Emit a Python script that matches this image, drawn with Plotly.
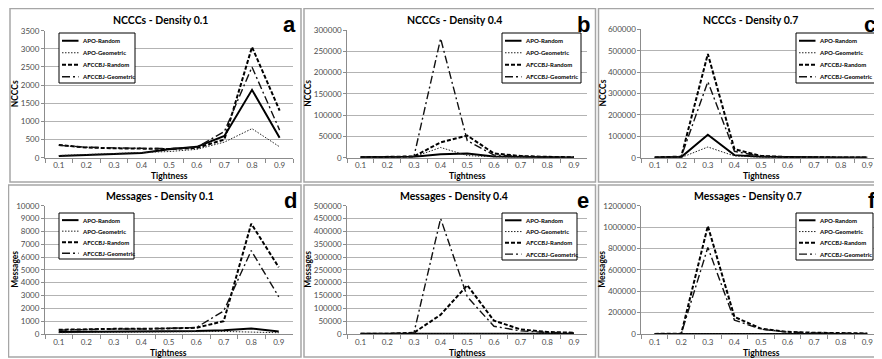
import plotly.graph_objects as go

# Screenshot window is 882x359; the page body has an 8px margin,
# so the figure is sized to fill the remainder and coordinates are offset.
WIN_W, WIN_H = 882, 359
OFF = 8
W, H = WIN_W - OFF, WIN_H - OFF

tightness = ["0.1", "0.2", "0.3", "0.4", "0.5", "0.6", "0.7", "0.8", "0.9"]
series_names = ["APO-Random", "APO-Geometric", "AFCCBJ-Random", "AFCCBJ-Geometric"]

# NCCCs - Density 0.1
nccc_d01_apo_random = [50, 80, 100, 130, 230, 300, 600, 1870, 550]
nccc_d01_apo_geometric = [60, 90, 110, 130, 170, 230, 430, 800, 300]
nccc_d01_afccbj_random = [350, 280, 260, 240, 240, 270, 500, 3050, 1300]
nccc_d01_afccbj_geometric = [340, 290, 270, 250, 250, 290, 720, 2500, 760]

# NCCCs - Density 0.4
nccc_d04_apo_random = [1000, 1000, 2000, 8000, 10000, 3000, 1500, 1000, 500]
nccc_d04_apo_geometric = [500, 800, 2000, 24000, 5000, 2000, 1000, 600, 400]
nccc_d04_afccbj_random = [1000, 1500, 3000, 36000, 52000, 10000, 4000, 2000, 1000]
nccc_d04_afccbj_geometric = [1000, 1500, 3000, 280000, 40000, 6000, 3000, 1500, 800]

# NCCCs - Density 0.7
nccc_d07_apo_random = [1000, 3000, 107000, 12000, 4000, 2000, 1000, 800, 500]
nccc_d07_apo_geometric = [500, 1000, 50000, 8000, 2000, 1000, 600, 400, 300]
nccc_d07_afccbj_random = [1500, 5000, 485000, 40000, 8000, 3000, 2000, 1000, 800]
nccc_d07_afccbj_geometric = [1500, 5000, 355000, 30000, 6000, 3000, 2000, 1000, 800]

# Messages - Density 0.1
msg_d01_apo_random = [150, 170, 180, 190, 200, 230, 300, 430, 200]
msg_d01_apo_geometric = [100, 120, 130, 140, 150, 170, 200, 150, 100]
msg_d01_afccbj_random = [330, 380, 400, 400, 420, 480, 1000, 8600, 5200]
msg_d01_afccbj_geometric = [300, 370, 390, 390, 420, 500, 1800, 6500, 2900]

# Messages - Density 0.4
msg_d04_apo_random = [500, 600, 800, 2000, 2500, 1500, 1000, 800, 600]
msg_d04_apo_geometric = [400, 500, 700, 3000, 1500, 1000, 700, 500, 400]
msg_d04_afccbj_random = [500, 1000, 5000, 75000, 190000, 52000, 18000, 8000, 5000]
msg_d04_afccbj_geometric = [500, 1000, 5000, 450000, 145000, 30000, 12000, 6000, 4000]

# Messages - Density 0.7
msg_d07_apo_random = [500, 800, 2000, 1500, 1000, 800, 600, 500, 400]
msg_d07_apo_geometric = [300, 500, 1000, 800, 600, 500, 400, 300, 300]
msg_d07_afccbj_random = [1000, 3000, 1010000, 160000, 50000, 20000, 12000, 8000, 5000]
msg_d07_afccbj_geometric = [1000, 3000, 810000, 130000, 45000, 18000, 10000, 7000, 5000]

panel_titles = ["NCCCs - Density 0.1", "NCCCs - Density 0.4", "NCCCs - Density 0.7",
                "Messages - Density 0.1", "Messages - Density 0.4", "Messages - Density 0.7"]
panel_letters = ["a", "b", "c", "d", "e", "f"]
y_titles = ["NCCCs", "NCCCs", "NCCCs", "Messages", "Messages", "Messages"]
y_max = [3500, 300000, 600000, 10000, 500000, 1200000]
y_step = [500, 50000, 100000, 1000, 50000, 200000]

panel_series = [
    [nccc_d01_apo_random, nccc_d01_apo_geometric, nccc_d01_afccbj_random, nccc_d01_afccbj_geometric],
    [nccc_d04_apo_random, nccc_d04_apo_geometric, nccc_d04_afccbj_random, nccc_d04_afccbj_geometric],
    [nccc_d07_apo_random, nccc_d07_apo_geometric, nccc_d07_afccbj_random, nccc_d07_afccbj_geometric],
    [msg_d01_apo_random, msg_d01_apo_geometric, msg_d01_afccbj_random, msg_d01_afccbj_geometric],
    [msg_d04_apo_random, msg_d04_apo_geometric, msg_d04_afccbj_random, msg_d04_afccbj_geometric],
    [msg_d07_apo_random, msg_d07_apo_geometric, msg_d07_afccbj_random, msg_d07_afccbj_geometric],
]

# ---- layout geometry (screen pixels) ----
plot_boxes = [  # x0, x1, y_top, y_bottom
    (45, 293.4, 30.7, 157.7),
    (347.3, 587.3, 30.0, 157.7),
    (641.4, 880.6, 29.3, 157.7),
    (45, 292.5, 205.7, 334.0),
    (347.3, 587.3, 205.7, 334.0),
    (641.4, 880.6, 205.7, 334.0),
]
panel_frames = [
    (10, 8.5, 301, 182), (304, 8.5, 595.5, 182), (598.5, 8.5, 890, 182),
    (8.5, 185, 301, 357), (304, 185, 595.5, 357), (598.5, 185, 890, 357),
]
title_pos = [(160, 20), (454, 20), (750, 20), (160, 196), (454, 196), (748, 196)]
letter_pos = [(289, 24), (583, 24), (870, 24), (290, 200), (583, 200), (872, 200)]
ytitle_x = [15, 308, 602, 15, 308, 602]
xtitle_y = [175.7, 175.7, 175.7, 353.3, 353.3, 353.3]
legend_boxes = [
    (59, 33, 135, 83), (502, 33, 581, 83), (796, 33, 875, 83),
    (59, 213, 134, 259), (502, 213, 577, 260), (796, 213, 873, 260),
]

styles = [
    dict(color="#000000", width=2, dash="solid"),
    dict(color="#222222", width=1, dash="1.5px,1.5px"),
    dict(color="#000000", width=2, dash="4px,2px"),
    dict(color="#111111", width=1.4, dash="8px,3px,2px,3px"),
]

FONT = "Lato, Roboto, sans-serif"
TICKFONT = dict(family=FONT, size=8, color="#4d4d4d")


def px(x):
    return (x - OFF) / W


def py(y):
    return 1 - (y - OFF) / H


fig = go.Figure()
shapes = []
annotations = []

for i in range(6):
    n = i + 1
    xa = "x" if n == 1 else f"x{n}"
    ya = "y" if n == 1 else f"y{n}"
    for s, name in enumerate(series_names):
        fig.add_trace(go.Scatter(
            x=tightness, y=panel_series[i][s], mode="lines", name=name,
            line=styles[s], xaxis=xa, yaxis=ya, showlegend=False,
            hoverinfo="x+y+name"))

    x0, x1, yt, yb = plot_boxes[i]
    xkey = "xaxis" if n == 1 else f"xaxis{n}"
    ykey = "yaxis" if n == 1 else f"yaxis{n}"
    fig.update_layout(**{
        xkey: dict(domain=[px(x0), min(px(x1), 1.0)], anchor=ya, type="category",
                   tickson="boundaries", ticks="outside", ticklen=4, tickcolor="#8c8c8c",
                   showgrid=False, showline=True, linecolor="#8c8c8c", linewidth=1,
                   tickfont=TICKFONT, range=[-0.5, 8.5], fixedrange=True, automargin=False),
        ykey: dict(domain=[py(yb), py(yt)], anchor=xa, range=[0, y_max[i]],
                   dtick=y_step[i], tick0=0, tickformat="d", ticks="outside",
                   ticklen=3, tickcolor="#8c8c8c", showgrid=True, gridcolor="#b3b3b3",
                   gridwidth=1, showline=True, linecolor="#8c8c8c", linewidth=1,
                   zeroline=False, tickfont=TICKFONT, fixedrange=True, automargin=False),
    })

    # panel frame
    fx0, fy0, fx1, fy1 = panel_frames[i]
    shapes.append(dict(type="rect", xref="paper", yref="paper",
                       x0=px(fx0), x1=px(fx1), y0=py(fy1), y1=py(fy0),
                       line=dict(color="#a6a6a6", width=1.5), layer="below"))

    # title
    tx, ty = title_pos[i]
    annotations.append(dict(x=px(tx), y=py(ty), xref="paper", yref="paper",
                            text=f"<b>{panel_titles[i]}</b>", showarrow=False,
                            xanchor="center", yanchor="middle",
                            font=dict(family=FONT, size=10.5, color="#000000")))
    # panel letter
    lx, ly = letter_pos[i]
    annotations.append(dict(x=px(lx), y=py(ly), xref="paper", yref="paper",
                            text=f"<b>{panel_letters[i]}</b>", showarrow=False,
                            xanchor="center", yanchor="middle",
                            font=dict(family="Liberation Sans, Arial, sans-serif", size=22,
                                      color="#000000")))
    # y title
    annotations.append(dict(x=px(ytitle_x[i]), y=py((yt + yb) / 2), xref="paper", yref="paper",
                            text=f"<b>{y_titles[i]}</b>", showarrow=False, textangle=-90,
                            xanchor="center", yanchor="middle",
                            font=dict(family=FONT, size=8.5, color="#000000")))
    # x title
    annotations.append(dict(x=px((x0 + x1) / 2), y=py(xtitle_y[i]), xref="paper", yref="paper",
                            text="<b>Tightness</b>", showarrow=False,
                            xanchor="center", yanchor="middle",
                            font=dict(family=FONT, size=8.5, color="#000000")))

    # legend box
    bx0, by0, bx1, by1 = legend_boxes[i]
    shapes.append(dict(type="rect", xref="paper", yref="paper",
                       x0=px(bx0), x1=px(bx1), y0=py(by1), y1=py(by0),
                       line=dict(color="#000000", width=1), fillcolor="white", layer="above"))
    bh = by1 - by0
    for s, name in enumerate(series_names):
        iy = by0 + bh * (0.155 + 0.24 * s)
        shapes.append(dict(type="line", xref="paper", yref="paper",
                           x0=px(bx0 + 3), x1=px(bx0 + 19.5), y0=py(iy), y1=py(iy),
                           line=styles[s], layer="above"))
        annotations.append(dict(x=px(bx0 + 20.5), y=py(iy), xref="paper", yref="paper",
                                text=f"<b>{name}</b>", showarrow=False,
                                xanchor="left", yanchor="middle",
                                font=dict(family=FONT, size=6, color="#000000")))

fig.update_layout(
    width=W, height=H, margin=dict(l=0, r=0, t=0, b=0, autoexpand=False),
    paper_bgcolor="white", plot_bgcolor="white",
    shapes=shapes, annotations=annotations, showlegend=False,
)

fig.write_html("out.html")
